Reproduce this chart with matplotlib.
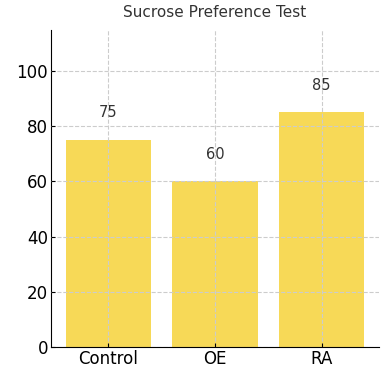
import matplotlib
matplotlib.use("Agg")
import matplotlib.pyplot as plt

groups = ["Control", "OE", "RA"]
preference = [75, 60, 85]

fig = plt.figure(figsize=(3.88, 3.7), dpi=100)
ax = fig.add_axes([0.131, 0.062, 0.846, 0.857])

bars = ax.bar(groups, preference, width=0.8, color="#F7D957", zorder=2)
for x, v in zip(range(len(groups)), preference):
    ax.text(x, v + 7, str(v), ha="center", va="bottom", fontsize=10.5, color="#333333")

ax.set_ylim(0, max(preference) * 1.35)
ax.set_title("Sucrose Preference Test", fontsize=11, color="#333333", pad=9)
ax.grid(True, linestyle="--", color="#cccccc", linewidth=0.8, zorder=0)
ax.set_axisbelow(False)
for side in ("top", "right"):
    ax.spines[side].set_visible(False)
ax.tick_params(axis="both", direction="in", labelsize=12, length=3, pad=2)

fig.savefig("out.png", dpi=100)
